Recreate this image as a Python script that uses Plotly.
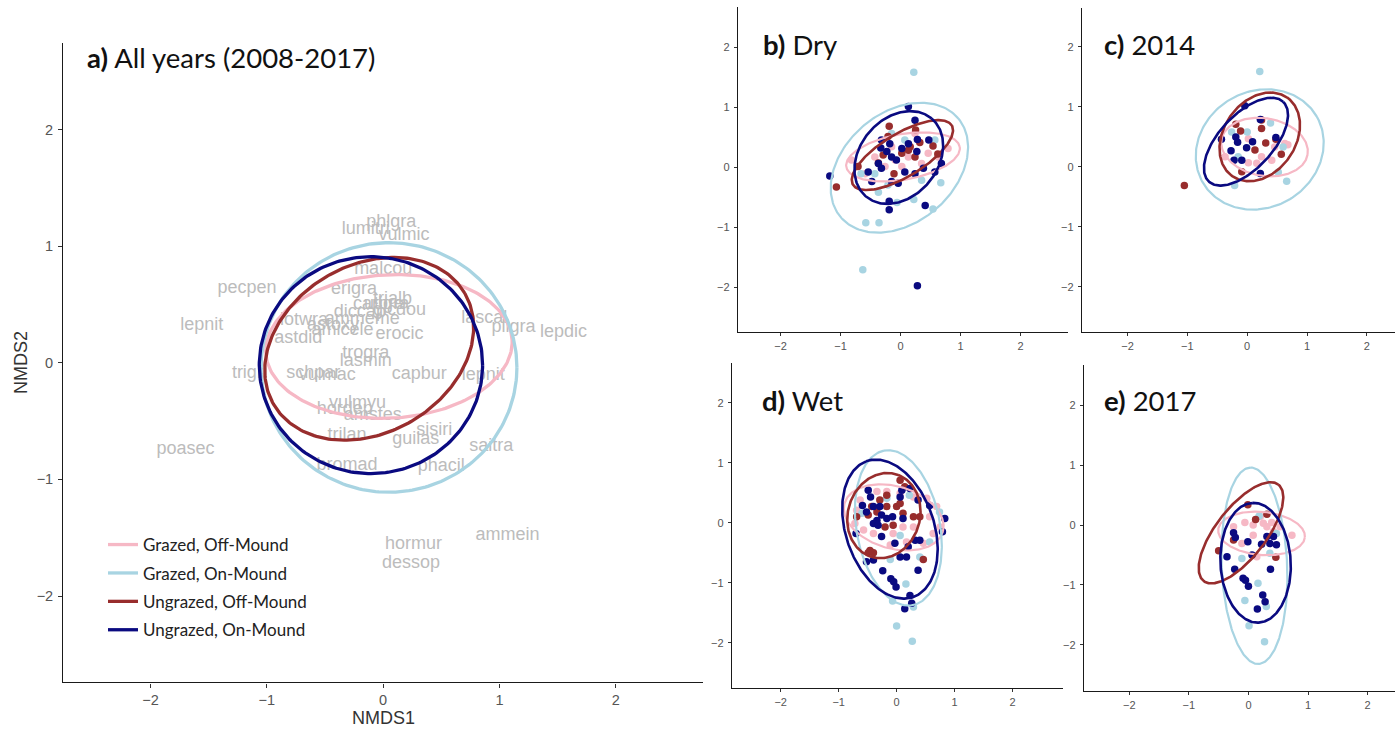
import numpy as np
import plotly.graph_objects as go

W, H = 1395, 731

groups = ["Grazed, Off-Mound", "Grazed, On-Mound", "Ungrazed, Off-Mound", "Ungrazed, On-Mound"]
colors = ["#f6b8c5", "#a8d4e2", "#982d2d", "#0a0a80"]

# ---------------- panel a: species scores ----------------
species = ["phlgra", "lumitri", "vulmic", "malcou", "pecpen", "erigra", "trialb", "carbre", "utigra",
           "diccap", "glcdou", "lotwra", "ammeme", "astoxy", "amicele", "astdid", "erocic", "lascal",
           "pligra", "lepdic", "lepnit", "trogra", "lasmin", "trigri", "schpar", "vulmac", "capbur",
           "lepnit", "vulmyu", "hordep", "amstes", "trilan", "sisiri", "guilas", "saitra", "poasec",
           "bromad", "phacil", "hormur", "dessop", "ammein"]
species_x = [0.07, -0.15, 0.18, 0.00, -1.17, -0.25, 0.08, -0.04, 0.03,
             -0.20, 0.14, -0.68, -0.18, -0.43, -0.35, -0.73, 0.14, 0.87,
             1.12, 1.55, -1.56, -0.15, -0.15, -1.15, -0.60, -0.48, 0.31,
             0.86, -0.22, -0.33, -0.09, -0.31, 0.44, 0.28, 0.93, -1.70,
             -0.31, 0.50, 0.26, 0.24, 1.07]
species_y = [1.20, 1.14, 1.09, 0.80, 0.64, 0.63, 0.54, 0.50, 0.50,
             0.43, 0.45, 0.36, 0.37, 0.32, 0.28, 0.21, 0.24, 0.38,
             0.30, 0.26, 0.32, 0.08, 0.01, -0.09, -0.09, -0.11, -0.10,
             -0.11, -0.35, -0.40, -0.45, -0.62, -0.58, -0.66, -0.72, -0.74,
             -0.88, -0.89, -1.56, -1.72, -1.48]

# ellipse parameters per group (order of `groups`): centre x, centre y, semi-axis a, semi-axis b, angle (deg)
ell_a = [(0.05, 0.14, 1.06, 0.615, 3), (0.05, -0.04, 1.10, 1.07, 0),
         (-0.12, 0.12, 0.95, 0.72, 30), (-0.105, -0.02, 0.96, 0.93, 0)]
ell_b = [(0.04, 0.17, 0.96, 0.38, 10), (-0.02, -0.01, 1.28, 0.92, 40),
         (0.03, 0.20, 0.96, 0.36, 31), (-0.03, 0.16, 0.85, 0.65, 50)]
ell_c = [(0.29, 0.33, 0.73, 0.48, -10), (0.21, 0.29, 1.10, 0.97, 30),
         (0.21, 0.50, 0.80, 0.60, 55), (-0.02, 0.42, 0.91, 0.45, 47)]
ell_d = [(-0.05, 0.09, 0.88, 0.52, -15), (0.03, -0.085, 1.31, 0.72, 101),
         (-0.22, 0.12, 0.72, 0.62, 70), (-0.115, -0.105, 1.20, 0.76, 110)]
ell_e = [(0.22, -0.14, 0.73, 0.36, -5), (0.10, -0.68, 1.64, 0.55, 92.4),
         (-0.125, -0.13, 1.02, 0.42, 52), (0.12, -0.63, 1.00, 0.59, 93)]

# ---------------- site scores ----------------
b_pink = [(-0.82, 0.12), (-0.43, 0.17), (-0.09, 0.12), (0.13, 0.17), (0.46, 0.23), (0.79, 0.31), (-0.26, 0.01),
          (0.02, 0.01), (0.35, 0.06), (-0.59, -0.11), (0.63, 0.17), (-0.15, 0.34), (0.24, 0.56)]
b_lblue = [(0.22, 1.58), (-0.63, -1.71), (-0.58, -0.93), (-0.36, -0.93), (0.67, -0.26), (0.54, -0.70), (0.22, -0.54),
           (-0.06, -0.59), (-0.37, -0.42), (-0.66, -0.11), (-0.21, -0.30), (0.35, -0.22), (0.57, 0.45), (-0.15, 0.56),
           (0.07, 0.45), (-0.43, -0.11)]
b_red = [(-1.07, -0.33), (-0.19, 0.68), (0.25, 0.62), (-0.71, 0.01), (0.16, 0.34), (0.32, 0.41), (0.54, 0.35),
         (0.62, 0.22), (-0.11, -0.11), (-0.37, 0.07), (-0.29, 0.20), (0.13, 0.28), (0.02, 0.23), (0.24, 0.17),
         (-0.21, 0.51)]
b_navy = [(0.13, 1.01), (-1.18, -0.15), (0.28, -1.98), (-0.19, -0.57), (-0.19, -0.71), (0.41, -0.64), (0.24, 0.78),
          (0.47, 0.45), (0.28, 0.46), (-0.32, 0.45), (-0.18, 0.39), (0.02, 0.31), (-0.33, 0.32), (-0.23, 0.26),
          (-0.15, 0.17), (-0.07, 0.12), (-0.37, 0.06), (-0.32, -0.02), (-0.54, -0.08), (-0.15, -0.24), (0.07, -0.08),
          (0.24, -0.11), (0.38, -0.02), (0.57, -0.08), (0.68, 0.06), (0.27, 0.26), (0.13, 0.39), (-0.04, -0.27),
          (-0.48, -0.24)]

c_pink = [(0.02, 0.47), (0.16, 0.06), (0.02, 0.07), (0.63, 0.39), (0.68, 0.37), (-0.37, 0.17), (0.41, 0.11),
          (0.24, 0.17), (0.46, 0.33)]
c_lblue = [(0.21, 1.59), (0.66, -0.24), (-0.21, -0.31), (0.39, 0.73), (-0.26, 0.58), (0.0, 0.58), (0.52, -0.09),
           (0.60, 0.33), (-0.15, 0.17)]
c_red = [(-1.05, -0.31), (-0.19, 0.71), (-0.11, 0.60), (0.24, 0.78), (0.24, 0.64), (0.31, 0.40), (0.13, 0.28),
         (0.48, 0.46), (0.57, 0.21), (-0.09, -0.08)]
c_navy = [(-0.04, 1.02), (0.22, 0.79), (-0.43, 0.46), (-0.19, 0.50), (-0.16, 0.41), (0.09, 0.42), (-0.01, 0.32),
          (-0.27, 0.27), (-0.22, 0.11), (-0.09, 0.11), (0.22, -0.11), (0.48, 0.49)]

d_pink = [(-0.63, 0.38), (-0.69, 0.21), (-0.34, 0.52), (-0.17, 0.52), (0.06, 0.49), (0.29, 0.43), (0.52, 0.41),
          (0.69, 0.27), (0.57, 0.10), (0.75, -0.07), (0.63, -0.18), (0.46, -0.34), (0.17, -0.32), (-0.11, -0.37),
          (-0.40, -0.18), (-0.57, -0.12), (-0.72, -0.01), (0.29, -0.07), (-0.06, -0.18), (0.11, -0.07)]
d_lblue = [(0.0, -1.72), (0.27, -1.97), (-0.07, -1.30), (0.16, -1.02), (0.29, -1.40), (0.22, 0.46), (0.74, 0.18),
           (0.57, -0.32), (-0.11, -0.61), (-0.60, 0.16), (0.06, -0.21), (-0.17, 0.41), (0.40, -0.57)]
d_red = [(-0.43, 0.27), (-0.49, 0.13), (-0.29, 0.38), (-0.17, 0.46), (-0.17, 0.27), (0.0, 0.27), (0.06, 0.32),
         (0.11, 0.16), (0.29, 0.10), (0.40, 0.10), (-0.06, -0.04), (-0.20, -0.07), (-0.40, -0.50), (-0.49, -0.50),
         (-0.46, -0.46), (0.46, -0.61), (0.06, 0.71), (0.14, 0.60), (-0.69, 0.10), (-0.34, 0.18)]
d_navy = [(-0.49, 0.54), (-0.45, 0.43), (-0.59, 0.29), (-0.52, 0.18), (-0.40, 0.27), (-0.29, 0.27), (-0.26, 0.13),
          (-0.34, 0.04), (-0.40, -0.01), (-0.32, -0.04), (-0.17, 0.07), (-0.07, 0.10), (0.11, 0.07), (0.09, 0.54),
          (0.06, 0.43), (0.23, 0.57), (0.37, 0.38), (0.57, 0.29), (0.83, 0.07), (0.79, -0.15), (-0.70, -0.18),
          (-0.26, -0.23), (-0.03, -0.34), (0.32, -0.29), (0.40, -0.29), (0.20, -0.40), (0.06, -0.57), (0.17, -0.57),
          (0.37, -0.79), (-0.40, -0.62), (-0.24, -0.80), (-0.10, -0.93), (-0.05, -0.98), (-0.01, -1.07),
          (0.14, -1.43), (0.26, -1.34), (0.23, -1.21), (-0.52, -0.65)]

e_pink = [(-0.25, -0.03), (-0.06, 0.04), (0.08, 0.0), (0.25, 0.03), (0.39, 0.04), (0.53, -0.03), (0.73, -0.17),
          (0.08, -0.17), (-0.11, -0.31), (0.14, -0.53), (0.31, -0.03), (0.42, -0.11), (0.20, 0.14)]
e_lblue = [(0.01, -1.68), (0.27, -1.95), (-0.06, -1.26), (0.16, -0.97), (0.30, -1.36), (0.18, 0.15), (-0.11, -0.56),
           (0.47, -0.14), (0.36, -0.47)]
e_red = [(-0.01, 0.34), (0.12, 0.09), (0.31, 0.18), (-0.50, -0.43), (0.46, -0.54), (-0.25, -0.25)]
e_navy = [(-0.25, -0.13), (-0.22, -0.21), (-0.01, -0.28), (-0.36, -0.53), (-0.23, -0.74), (-0.09, -0.89),
          (-0.05, -0.92), (0.0, -1.02), (0.22, -0.32), (0.31, -0.19), (0.42, -0.19), (0.47, -0.33), (0.36, -0.31),
          (0.37, -0.74), (0.24, -1.17), (0.28, -1.28), (0.15, -1.40), (0.06, -0.50)]

tick_vals = [-2, -1, 0, 1, 2]
panel_titles = ["<b>a)</b> All years (2008-2017)", "<b>b)</b> Dry", "<b>c)</b> 2014", "<b>d)</b> Wet", "<b>e)</b> 2017"]


def ellipse_xy(cx, cy, a, b, ang):
    t = np.linspace(0, 2 * np.pi, 241)
    th = np.radians(ang)
    x = cx + a * np.cos(t) * np.cos(th) - b * np.sin(t) * np.sin(th)
    y = cy + a * np.cos(t) * np.sin(th) + b * np.sin(t) * np.cos(th)
    return x, y


fig = go.Figure()

# panel a
fig.add_trace(go.Scatter(x=species_x, y=species_y, text=species, mode="text",
                         textfont=dict(family="Liberation Sans", size=18, color="#bcbcbc"),
                         showlegend=False, hoverinfo="skip", xaxis="x", yaxis="y"))
for i, (cx, cy, a, b, ang) in enumerate(ell_a):
    ex, ey = ellipse_xy(cx, cy, a, b, ang)
    fig.add_trace(go.Scatter(x=ex, y=ey, mode="lines", name=groups[i], legendgroup=str(i),
                             line=dict(color=colors[i], width=3.3), xaxis="x", yaxis="y"))

panel_points = [
    ("x2", "y2", [b_pink, b_lblue, b_red, b_navy], ell_b),
    ("x3", "y3", [c_pink, c_lblue, c_red, c_navy], ell_c),
    ("x4", "y4", [d_pink, d_lblue, d_red, d_navy], ell_d),
    ("x5", "y5", [e_pink, e_lblue, e_red, e_navy], ell_e),
]
for xa, ya, pts, ells in panel_points:
    for i, p in enumerate(pts):
        fig.add_trace(go.Scatter(x=[q[0] for q in p], y=[q[1] for q in p], mode="markers",
                                 marker=dict(color=colors[i], size=7.5, line=dict(width=0)),
                                 showlegend=False, xaxis=xa, yaxis=ya))
    for i, (cx, cy, a, b, ang) in enumerate(ells):
        ex, ey = ellipse_xy(cx, cy, a, b, ang)
        fig.add_trace(go.Scatter(x=ex, y=ey, mode="lines", line=dict(color=colors[i], width=2.2 if i < 2 else 2.6),
                                 showlegend=False, xaxis=xa, yaxis=ya))


def xdom(l, r):
    return [l / W, min(r / W, 1.0)]


def ydom(t, b):
    return [1 - b / H, 1 - t / H]


def axis(dom, rng, fs, anchor, ticklen, standoff):
    return dict(domain=dom, range=rng, anchor=anchor, showline=True, linecolor="#1a1a1a", linewidth=1.4,
                ticks="outside", ticklen=ticklen, tickwidth=1, tickcolor="#333333",
                tickvals=tick_vals, tickfont=dict(family="Liberation Sans", size=fs, color="#555555"),
                showgrid=False, zeroline=False, mirror=False, ticklabelstandoff=standoff)


layout_axes = dict(
    xaxis=axis(xdom(63.3, 703), [-2.75, 2.75], 14.5, "y", 4, 0),
    yaxis=axis(ydom(43.3, 682.3), [-2.74, 2.74], 14.5, "x", 4, 2),
    xaxis2=axis(xdom(738, 1068), [-2.71, 2.79], 11, "y2", 3, 1),
    yaxis2=axis(ydom(7, 332), [-2.75, 2.67], 11, "x2", 3, 2),
    xaxis3=axis(xdom(1082, 1395), [-2.76, 2.47], 11, "y3", 3, 1),
    yaxis3=axis(ydom(8, 331.7), [-2.75, 2.65], 11, "x3", 3, 2),
    xaxis4=axis(xdom(732, 1063), [-2.84, 2.87], 11, "y4", 3, 1),
    yaxis4=axis(ydom(363, 688), [-2.75, 2.66], 11, "x4", 3, 2),
    xaxis5=axis(xdom(1084, 1395), [-2.76, 2.46], 11, "y5", 3, 1),
    yaxis5=axis(ydom(365, 691), [-2.77, 2.67], 11, "x5", 3, 2),
)

title_pos = [(85, 58), (761, 44), (1102, 44), (760, 400), (1102, 400)]
annotations = []
for txt, (px, py) in zip(panel_titles, title_pos):
    annotations.append(dict(text=txt, x=px / W, y=1 - py / H, xref="paper", yref="paper", xanchor="left",
                            yanchor="middle", showarrow=False, font=dict(family="Lato", size=27.5, color="#111111")))
annotations.append(dict(text="NMDS1", x=383 / W, y=1 - 718 / H, xref="paper", yref="paper", showarrow=False,
                        xanchor="center", yanchor="middle",
                        font=dict(family="Liberation Sans", size=18, color="#333333")))
annotations.append(dict(text="NMDS2", x=21 / W, y=1 - 363 / H, xref="paper", yref="paper", showarrow=False,
                        xanchor="center", yanchor="middle",
                        textangle=-90, font=dict(family="Liberation Sans", size=18, color="#333333")))

fig.update_layout(
    width=W, height=H, margin=dict(l=0, r=0, t=0, b=0),
    paper_bgcolor="white", plot_bgcolor="white",
    showlegend=True,
    legend=dict(x=103 / W, y=1 - 527 / H, xanchor="left", yanchor="top", bgcolor="rgba(0,0,0,0)",
                font=dict(family="Lato", size=17, color="#222222"), tracegroupgap=3.3, itemwidth=30),
    annotations=annotations,
    **layout_axes,
)

fig.write_html("out.html")
